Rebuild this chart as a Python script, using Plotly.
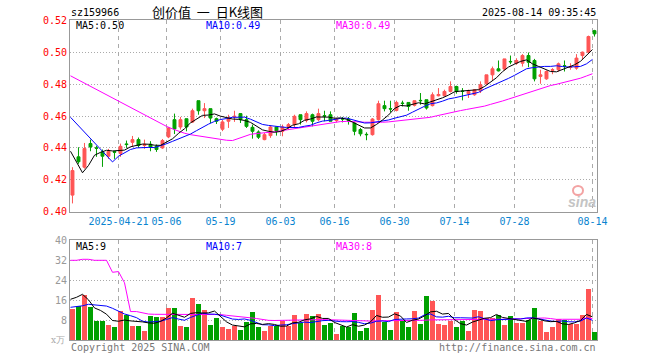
import plotly.graph_objects as go

# ---------------- data ----------------
dates = ["04-09", "04-10", "04-11", "04-14", "04-15", "04-16", "04-17", "04-18",
         "04-21", "04-22", "04-23", "04-24", "04-25", "04-28", "04-29", "04-30",
         "05-06", "05-07", "05-08", "05-09", "05-12", "05-13", "05-14", "05-15",
         "05-16", "05-19", "05-20", "05-21", "05-22", "05-23", "05-26", "05-27",
         "05-28", "05-29", "05-30", "06-03", "06-04", "06-05", "06-06", "06-09",
         "06-10", "06-11", "06-12", "06-13", "06-16", "06-17", "06-18", "06-19",
         "06-20", "06-23", "06-24", "06-25", "06-26", "06-27", "06-30", "07-01",
         "07-02", "07-03", "07-04", "07-07", "07-08", "07-09", "07-10", "07-11",
         "07-14", "07-15", "07-16", "07-17", "07-18", "07-21", "07-22", "07-23",
         "07-24", "07-25", "07-28", "07-29", "07-30", "07-31", "08-01", "08-04",
         "08-05", "08-06", "08-07", "08-08", "08-11", "08-12", "08-13", "08-14"]

tick_dates = ["04-21", "05-06", "05-19", "06-03", "06-16", "06-30", "07-14", "07-28", "08-14"]
tick_labels = ["2025-04-21", "05-06", "05-19", "06-03", "06-16", "06-30", "07-14", "07-28", "08-14"]

open_ = [0.4104, 0.4344, 0.4279, 0.4427, 0.4400, 0.4375, 0.4348, 0.4377, 0.4365, 0.4425,
         0.4435, 0.4452, 0.4415, 0.4423, 0.4410, 0.4400, 0.4469, 0.4577, 0.4531, 0.4583,
         0.4562, 0.4696, 0.4633, 0.4646, 0.4583, 0.4517, 0.4567, 0.4596, 0.4615, 0.4577,
         0.4529, 0.4500, 0.4452, 0.4477, 0.4531, 0.4504, 0.4531, 0.4546, 0.4608, 0.4573,
         0.4608, 0.4577, 0.4602, 0.4608, 0.4571, 0.4583, 0.4581, 0.4556, 0.4515, 0.4485,
         0.4483, 0.4577, 0.4665, 0.4646, 0.4635, 0.4681, 0.4685, 0.4667, 0.4698, 0.4702,
         0.4665, 0.4727, 0.4727, 0.4754, 0.4785, 0.4756, 0.4740, 0.4733, 0.4758, 0.4802,
         0.4858, 0.4896, 0.4894, 0.4942, 0.4931, 0.4931, 0.4979, 0.4948, 0.4848, 0.4833,
         0.4886, 0.4890, 0.4915, 0.4904, 0.4900, 0.4979, 0.5000, 0.5135]
high = [0.4279, 0.4404, 0.4431, 0.4452, 0.4413, 0.4390, 0.4394, 0.4379, 0.4427, 0.4446,
        0.4475, 0.4465, 0.4452, 0.4442, 0.4421, 0.4456, 0.4531, 0.4615, 0.4594, 0.4583,
        0.4646, 0.4696, 0.4681, 0.4646, 0.4590, 0.4575, 0.4608, 0.4633, 0.4615, 0.4602,
        0.4546, 0.4510, 0.4494, 0.4540, 0.4531, 0.4546, 0.4556, 0.4608, 0.4608, 0.4629,
        0.4615, 0.4646, 0.4633, 0.4629, 0.4587, 0.4594, 0.4594, 0.4560, 0.4525, 0.4498,
        0.4587, 0.4696, 0.4696, 0.4696, 0.4696, 0.4696, 0.4685, 0.4696, 0.4744, 0.4702,
        0.4748, 0.4775, 0.4765, 0.4817, 0.4790, 0.4775, 0.4765, 0.4769, 0.4817, 0.4858,
        0.4910, 0.4948, 0.4958, 0.4979, 0.4962, 0.4988, 0.4998, 0.4958, 0.4890, 0.4885,
        0.4900, 0.4935, 0.4948, 0.4931, 0.4988, 0.5004, 0.5104, 0.5140]
low = [0.4052, 0.4300, 0.4270, 0.4379, 0.4344, 0.4281, 0.4331, 0.4331, 0.4344, 0.4400,
       0.4406, 0.4400, 0.4394, 0.4379, 0.4375, 0.4394, 0.4461, 0.4487, 0.4515, 0.4504,
       0.4556, 0.4608, 0.4587, 0.4556, 0.4550, 0.4505, 0.4525, 0.4563, 0.4556, 0.4525,
       0.4458, 0.4456, 0.4448, 0.4463, 0.4477, 0.4473, 0.4515, 0.4531, 0.4546, 0.4560,
       0.4535, 0.4567, 0.4567, 0.4567, 0.4560, 0.4560, 0.4546, 0.4479, 0.4473, 0.4448,
       0.4477, 0.4571, 0.4629, 0.4623, 0.4629, 0.4660, 0.4633, 0.4660, 0.4671, 0.4640,
       0.4660, 0.4723, 0.4723, 0.4748, 0.4740, 0.4698, 0.4713, 0.4727, 0.4744, 0.4796,
       0.4823, 0.4879, 0.4885, 0.4925, 0.4921, 0.4910, 0.4906, 0.4817, 0.4802, 0.4827,
       0.4862, 0.4879, 0.4879, 0.4890, 0.4890, 0.4956, 0.4994, 0.5098]
close = [0.4258, 0.4313, 0.4396, 0.4406, 0.4398, 0.4348, 0.4379, 0.4373, 0.4410, 0.4421,
         0.4452, 0.4415, 0.4423, 0.4406, 0.4390, 0.4446, 0.4525, 0.4519, 0.4577, 0.4531,
         0.4633, 0.4633, 0.4646, 0.4587, 0.4567, 0.4563, 0.4588, 0.4598, 0.4577, 0.4535,
         0.4504, 0.4467, 0.4483, 0.4531, 0.4504, 0.4531, 0.4546, 0.4598, 0.4577, 0.4615,
         0.4567, 0.4615, 0.4600, 0.4567, 0.4579, 0.4581, 0.4571, 0.4504, 0.4488, 0.4483,
         0.4581, 0.4677, 0.4646, 0.4644, 0.4685, 0.4679, 0.4660, 0.4696, 0.4696, 0.4650,
         0.4733, 0.4735, 0.4754, 0.4785, 0.4754, 0.4754, 0.4754, 0.4765, 0.4796, 0.4858,
         0.4896, 0.4883, 0.4958, 0.4940, 0.4948, 0.4979, 0.4937, 0.4833, 0.4858, 0.4879,
         0.4890, 0.4927, 0.4913, 0.4910, 0.4963, 0.5000, 0.5098, 0.5115]

ma5 = [0.4379, 0.4312, 0.4244, 0.4290, 0.4354, 0.4372, 0.4385, 0.4381, 0.4382, 0.4386,
       0.4407, 0.4414, 0.4424, 0.4423, 0.4417, 0.4416, 0.4438, 0.4457, 0.4491, 0.4520,
       0.4557, 0.4579, 0.4604, 0.4606, 0.4613, 0.4599, 0.4590, 0.4581, 0.4579, 0.4572,
       0.4560, 0.4536, 0.4513, 0.4504, 0.4498, 0.4503, 0.4519, 0.4542, 0.4551, 0.4573,
       0.4581, 0.4594, 0.4595, 0.4593, 0.4586, 0.4588, 0.4580, 0.4560, 0.4545, 0.4525,
       0.4525, 0.4547, 0.4575, 0.4606, 0.4647, 0.4666, 0.4663, 0.4673, 0.4683, 0.4676,
       0.4687, 0.4702, 0.4714, 0.4731, 0.4752, 0.4756, 0.4760, 0.4762, 0.4765, 0.4785,
       0.4814, 0.4840, 0.4878, 0.4907, 0.4925, 0.4942, 0.4952, 0.4927, 0.4911, 0.4897,
       0.4879, 0.4877, 0.4893, 0.4904, 0.4921, 0.4943, 0.4977, 0.5017]
ma10 = [0.4592, 0.4552, 0.4512, 0.4472, 0.4432, 0.4392, 0.4352, 0.4312, 0.4348, 0.4370,
        0.4390, 0.4400, 0.4403, 0.4403, 0.4402, 0.4412, 0.4426, 0.4441, 0.4457, 0.4468,
        0.4487, 0.4508, 0.4531, 0.4549, 0.4566, 0.4578, 0.4584, 0.4592, 0.4592, 0.4593,
        0.4580, 0.4563, 0.4547, 0.4541, 0.4535, 0.4532, 0.4528, 0.4528, 0.4528, 0.4536,
        0.4542, 0.4557, 0.4568, 0.4572, 0.4580, 0.4585, 0.4587, 0.4578, 0.4569, 0.4556,
        0.4557, 0.4563, 0.4568, 0.4575, 0.4586, 0.4596, 0.4605, 0.4624, 0.4645, 0.4661,
        0.4677, 0.4682, 0.4693, 0.4707, 0.4714, 0.4722, 0.4731, 0.4738, 0.4748, 0.4769,
        0.4785, 0.4800, 0.4820, 0.4836, 0.4855, 0.4878, 0.4896, 0.4903, 0.4909, 0.4911,
        0.4911, 0.4915, 0.4910, 0.4907, 0.4909, 0.4911, 0.4927, 0.4955]
ma30 = [0.4852, 0.4832, 0.4812, 0.4792, 0.4773, 0.4752, 0.4733, 0.4712, 0.4694, 0.4673,
        0.4654, 0.4633, 0.4615, 0.4594, 0.4573, 0.4554, 0.4535, 0.4519, 0.4504, 0.4492,
        0.4483, 0.4477, 0.4471, 0.4465, 0.4458, 0.4452, 0.4448, 0.4446, 0.4458, 0.4472,
        0.4485, 0.4490, 0.4493, 0.4498, 0.4501, 0.4507, 0.4513, 0.4520, 0.4526, 0.4532,
        0.4536, 0.4543, 0.4549, 0.4554, 0.4560, 0.4565, 0.4566, 0.4566, 0.4563, 0.4561,
        0.4560, 0.4561, 0.4561, 0.4563, 0.4567, 0.4571, 0.4573, 0.4576, 0.4580, 0.4584,
        0.4592, 0.4601, 0.4610, 0.4618, 0.4627, 0.4634, 0.4641, 0.4647, 0.4654, 0.4662,
        0.4673, 0.4682, 0.4694, 0.4706, 0.4718, 0.4732, 0.4744, 0.4755, 0.4767, 0.4780,
        0.4791, 0.4799, 0.4808, 0.4817, 0.4826, 0.4837, 0.4851, 0.4865]

volume = [12.5, 13.6, 17.9, 13.2, 7.5, 7.5, 6.1, 5.3, 11.7, 10.0,
          5.7, 5.7, 3.7, 9.7, 9.3, 9.3, 12.9, 12.9, 5.7, 5.3,
          16.9, 14.5, 12.1, 6.1, 8.9, 5.3, 4.5, 5.7, 4.1, 7.3,
          11.3, 5.3, 3.7, 5.7, 5.7, 7.7, 5.7, 10.1, 6.9, 10.5,
          9.7, 10.5, 6.1, 6.9, 2.5, 5.7, 5.3, 10.9, 3.7, 4.9,
          12.1, 18.1, 7.3, 4.1, 11.3, 7.7, 5.3, 11.7, 6.5, 17.7,
          15.7, 6.5, 6.1, 7.7, 5.3, 7.7, 3.7, 12.1, 11.7, 8.9,
          8.9, 10.1, 6.1, 9.7, 6.9, 6.9, 8.1, 12.9, 7.7, 3.3,
          5.3, 8.5, 8.1, 6.5, 6.5, 10.1, 20.5, 3.3]
vma5 = [16.4, 17.2, 18.4, 16.2, 12.94, 11.94, 10.44, 7.92, 7.62, 8.12,
        7.76, 7.68, 7.36, 6.96, 6.82, 7.54, 8.98, 10.82, 10.02, 9.22,
        10.74, 11.06, 10.9, 10.98, 11.7, 9.38, 7.38, 6.1, 5.7, 5.38,
        6.58, 6.74, 6.34, 6.66, 6.34, 5.62, 5.7, 6.98, 7.22, 8.18,
        8.58, 9.54, 8.74, 8.74, 7.14, 6.34, 5.3, 6.26, 5.62, 6.1,
        7.38, 9.94, 9.22, 9.3, 10.58, 9.7, 7.14, 8.02, 8.5, 9.78,
        11.38, 11.62, 10.5, 10.74, 8.26, 6.66, 6.1, 7.3, 8.1, 8.82,
        9.06, 10.34, 9.14, 8.74, 8.34, 7.94, 7.54, 8.9, 8.5, 7.78,
        7.46, 7.54, 6.58, 6.34, 6.98, 7.94, 10.34, 9.38]
vma10 = [13.2, 13.4, 13.8, 14.4, 14.2, 14.0, 13.7, 12.8, 11.6, 10.53,
         9.85, 9.06, 7.64, 7.29, 7.47, 7.65, 8.33, 9.09, 8.49, 8.02,
         9.14, 10.02, 10.86, 10.5, 10.46, 10.06, 9.22, 8.5, 8.34, 8.54,
         7.98, 7.06, 6.22, 6.18, 5.86, 6.1, 6.22, 6.66, 6.94, 7.26,
         7.1, 7.62, 7.86, 7.98, 7.66, 7.46, 7.42, 7.5, 7.18, 6.62,
         6.86, 7.62, 7.74, 7.46, 8.34, 8.54, 8.54, 8.62, 8.9, 10.18,
         10.54, 9.38, 9.26, 9.62, 9.02, 9.02, 8.86, 8.9, 9.42, 8.54,
         7.86, 8.22, 8.22, 8.42, 8.58, 8.5, 8.94, 9.02, 8.62, 8.06,
         7.7, 7.54, 7.74, 7.42, 7.38, 7.7, 8.94, 7.98]
vma30 = [32.0, 32.0, 32.4, 32.4, 32.0, 32.0, 32.0, 27.2, 27.5, 23.0,
         11.5, 11.5, 10.9, 10.5, 10.4, 10.4, 10.4, 10.4, 10.4, 10.4,
         10.4, 10.5, 10.6, 10.6, 10.5, 10.3, 10.0, 9.7, 9.3, 9.03,
         8.99, 8.71, 8.24, 7.99, 7.93, 7.94, 7.92, 8.08, 7.92, 7.94,
         8.07, 8.23, 8.31, 8.22, 7.99, 7.87, 7.8, 7.8, 7.8, 7.8,
         7.7, 7.8, 7.8, 7.8, 7.8, 7.9, 7.9, 8.0, 8.0, 8.02,
         8.17, 8.21, 8.29, 8.35, 8.34, 8.34, 8.27, 8.34, 8.5, 8.45,
         8.42, 8.41, 8.41, 8.5, 8.65, 8.69, 8.78, 8.85, 8.98, 8.93,
         8.7, 8.38, 8.41, 8.49, 8.33, 8.41, 8.91, 8.63]

price_ticks = [0.40, 0.42, 0.44, 0.46, 0.48, 0.50, 0.52]
vol_ticks = [8, 16, 24, 32, 40]

# ---------------- style / layout constants ----------------
RED = "#ff5555"
GREEN = "#00a000"
MONO = "DejaVu Sans Mono"
W, H = 660, 360
L, R = 70, 597
MT, MB = 20.3, 211.7
VT, VB = 240.3, 340.3


def px(x):
    return x / W


def py(y):
    return 1 - y / H


n = len(close)
xk = list(range(n))
xc = [k + 0.33 for k in xk]
xrange_ = [-0.083, 87.75]
tick_pos = [dates.index(d) for d in tick_dates]
bar_colors = [RED if c >= o else GREEN for o, c in zip(open_, close)]

fig = go.Figure()
fig.add_trace(go.Candlestick(
    x=xc, open=open_, high=high, low=low, close=close,
    increasing=dict(line=dict(color=RED, width=1), fillcolor=RED),
    decreasing=dict(line=dict(color=GREEN, width=1), fillcolor=GREEN),
    whiskerwidth=0, showlegend=False, hoverinfo="skip", xaxis="x", yaxis="y"))
for ys, col in [(ma30, "#ff00ff"), (ma10, "#0000ff"), (ma5, "#000000")]:
    fig.add_trace(go.Scatter(x=xk, y=ys, mode="lines", line=dict(color=col, width=1),
                             showlegend=False, hoverinfo="skip", xaxis="x", yaxis="y"))

fig.add_trace(go.Bar(x=xc, y=volume, width=0.84, marker=dict(color=bar_colors, line=dict(width=0)),
                     showlegend=False, hoverinfo="skip", xaxis="x2", yaxis="y2"))
for ys, col in [(vma30, "#ff00ff"), (vma10, "#0000ff"), (vma5, "#000000")]:
    fig.add_trace(go.Scatter(x=xk, y=ys, mode="lines", line=dict(color=col, width=1),
                             showlegend=False, hoverinfo="skip", xaxis="x2", yaxis="y2"))

axis_common = dict(showline=True, linecolor="#999999", linewidth=1, mirror=True,
                   zeroline=False, ticks="", fixedrange=True, automargin=False)

fig.update_layout(
    width=W, height=H, margin=dict(l=0, r=0, t=0, b=0, autoexpand=False),
    paper_bgcolor="white", plot_bgcolor="white",
    boxgap=0.3, bargap=0, showlegend=False,
    xaxis=dict(domain=[px(L), px(R)], range=xrange_, anchor="y",
               tickmode="array", tickvals=tick_pos, ticktext=tick_labels,
               tickfont=dict(family=MONO, size=10, color="#0a84d0"),
               showgrid=True, gridcolor="#aaaaaa", gridwidth=1, griddash="4px,4px",
               rangeslider=dict(visible=False), **axis_common),
    yaxis=dict(domain=[py(MB), py(MT)], range=[0.40, 0.52], anchor="x",
               tickmode="array", tickvals=price_ticks,
               ticktext=["%.2f" % v for v in price_ticks],
               tickfont=dict(family=MONO, size=10, color="#ff0000"),
               showgrid=True, gridcolor="#aaaaaa", gridwidth=1, griddash="1px,2px",
               **axis_common),
    xaxis2=dict(domain=[px(L), px(R)], range=xrange_, anchor="y2",
                tickmode="array", tickvals=tick_pos, showticklabels=False,
                showgrid=True, gridcolor="#aaaaaa", gridwidth=1, griddash="4px,4px",
                **axis_common),
    yaxis2=dict(domain=[py(VB), py(VT)], range=[0, 40], anchor="x2",
                tickmode="array", tickvals=vol_ticks, ticktext=[str(v) for v in vol_ticks],
                tickfont=dict(family=MONO, size=10, color="#999999"),
                showgrid=True, gridcolor="#aaaaaa", gridwidth=1, griddash="1px,2px",
                **axis_common),
)


def note(text, x, y, color="black", size=10, xanchor="left", family=MONO):
    fig.add_annotation(text=text, x=px(x), y=py(y), xref="paper", yref="paper",
                       xanchor=xanchor, yanchor="middle", showarrow=False,
                       font=dict(family=family, size=size, color=color))


note("sz159966", 69, 13)
note("创价值  一  日K线图", 207, 12, size=13, xanchor="center", family="Noto Sans CJK SC")
note("2025-08-14 09:35:45", 598, 13, xanchor="right")
note("MA5:%.2f" % ma5[-1], 74, 26)
note("MA10:0.49", 204, 26, color="#0000ff")
note("MA30:%.2f" % ma30[-1], 334, 26, color="#ff00ff")
note("MA5:%d" % int(vma5[-1]), 74, 246)
note("MA10:%d" % int(vma10[-1]), 204, 246, color="#0000ff")
note("MA30:%d" % int(vma30[-1]), 334, 246, color="#ff00ff")
note("x万", 67, 340, color="#aaaaaa", size=9, xanchor="right", family="DejaVu Serif")
note("Copyright 2025 SINA.COM", 69, 347, color="#777777")
note("http://finance.sina.com.cn", 598, 347, color="#777777", xanchor="right")
note("<b><i>sina</i></b>", 582, 202, color="#c4c4c4", size=14, xanchor="center",
     family="Liberation Sans")
fig.add_shape(type="circle", xref="paper", yref="paper",
              x0=px(573), x1=px(583), y0=py(195), y1=py(186),
              line=dict(color="#f3a3a3", width=2))

fig.write_html("out.html", config={"displayModeBar": False},
               post_script="document.body.style.margin='0';document.body.style.overflow='hidden';")
